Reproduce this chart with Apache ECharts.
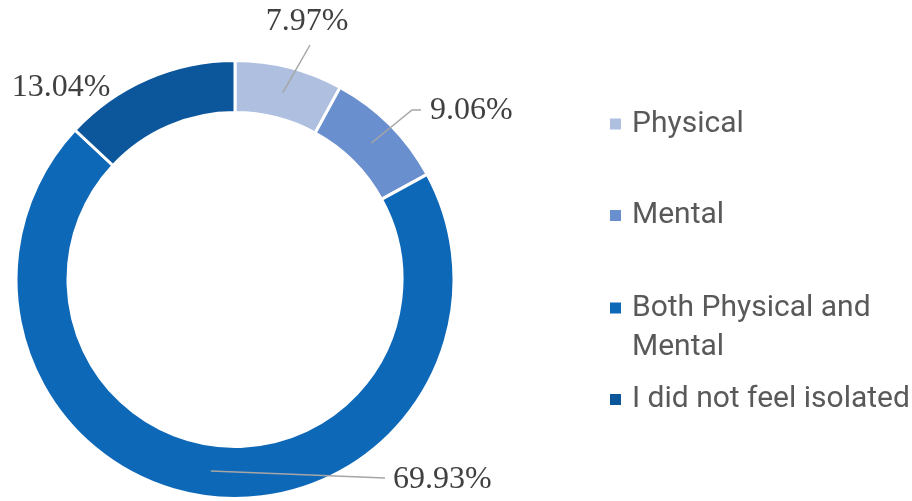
<!DOCTYPE html>
<html>
<head>
<meta charset="utf-8">
<script src="https://cdn.jsdelivr.net/npm/echarts@6/dist/echarts.min.js"></script>
<style>
  html, body { margin: 0; padding: 0; background: #fff; }
  #chart { width: 912px; height: 501px; }
</style>
</head>
<body>
<div id="chart"></div>
<script>
const categories = ['Physical', 'Mental', 'Both Physical and Mental', 'I did not feel isolated'];
const shares = [7.97, 9.06, 69.93, 13.04];
const colors = ['#aebfe0', '#6a8fcf', '#0e68b8', '#0c569b'];

// where the % labels sit and where their leader lines end
const labelSpots = [
  { x: 307, y: 22, align: 'center', line: [[310, 45]] },
  { x: 430, y: 111, align: 'left', line: [[412, 110], [421, 110]] },
  { x: 393, y: 480, align: 'left', line: [[385, 478]] },
  { x: 61, y: 88, align: 'center', line: null }
];
const legendCenters = [124, 215.5, 308, 399.5];
const lineH = 39.5;
const center = [235, 279.5];

const chart = echarts.init(document.getElementById('chart'));

// one legend per entry, Excel spaces them unevenly
const legends = categories.map((name, i) => {
  const wrapped = i === 2;
  return {
    data: [name],
    left: 608,
    // wrapped entry gets a blank first line so the marker sits on "Both..."
    top: wrapped ? legendCenters[i] - lineH * 1.5 : legendCenters[i] - lineH / 2,
    padding: 0,
    orient: 'vertical',
    icon: 'rect',
    itemWidth: 13,
    itemHeight: 13,
    itemGap: 0,
    selectedMode: false,
    formatter: wrapped ? ' \nBoth Physical and\nMental' : '{name}',
    textStyle: {
      fontFamily: 'Roboto',
      fontSize: 30,
      color: '#595959',
      lineHeight: lineH,
      padding: [0, 0, 0, 5]
    }
  };
});

const option = {
  animation: false,
  legend: legends,
  series: [
    {
      // the ring itself
      type: 'pie',
      radius: [167, 219],
      center: center,
      startAngle: 90,
      clockwise: true,
      silent: true,
      avoidLabelOverlap: false,
      label: { show: false },
      labelLine: { show: false },
      itemStyle: { borderColor: '#fff', borderWidth: 3 },
      data: categories.map((name, i) => ({
        name: name,
        value: shares[i],
        itemStyle: { color: colors[i] }
      }))
    },
    {
      // invisible pie out to the middle of the ring, only carries the labels
      type: 'pie',
      z: 5,
      radius: [0, 193],
      center: center,
      startAngle: 90,
      clockwise: true,
      silent: true,
      avoidLabelOverlap: false,
      itemStyle: { color: 'rgba(0,0,0,0)', borderWidth: 0 },
      label: {
        show: true,
        position: 'outside',
        formatter: p => p.value.toFixed(2) + '%',
        fontFamily: 'Liberation Serif',
        fontSize: 32,
        color: '#404040'
      },
      labelLine: {
        show: true,
        length: 10,
        length2: 10,
        lineStyle: { color: '#a6a6a6', width: 1.5 }
      },
      labelLayout: function (params) {
        const spot = labelSpots[params.dataIndex];
        const out = { x: spot.x, y: spot.y, align: spot.align, verticalAlign: 'middle' };
        if (spot.line && params.labelLinePoints) {
          out.labelLinePoints = [params.labelLinePoints[0]].concat(spot.line);
        }
        return out;
      },
      data: categories.map((name, i) => ({
        name: name,
        value: shares[i],
        itemStyle: { color: 'rgba(0,0,0,0)' },
        labelLine: { show: labelSpots[i].line != null }
      }))
    }
  ]
};

chart.setOption(option);
</script>
</body>
</html>
